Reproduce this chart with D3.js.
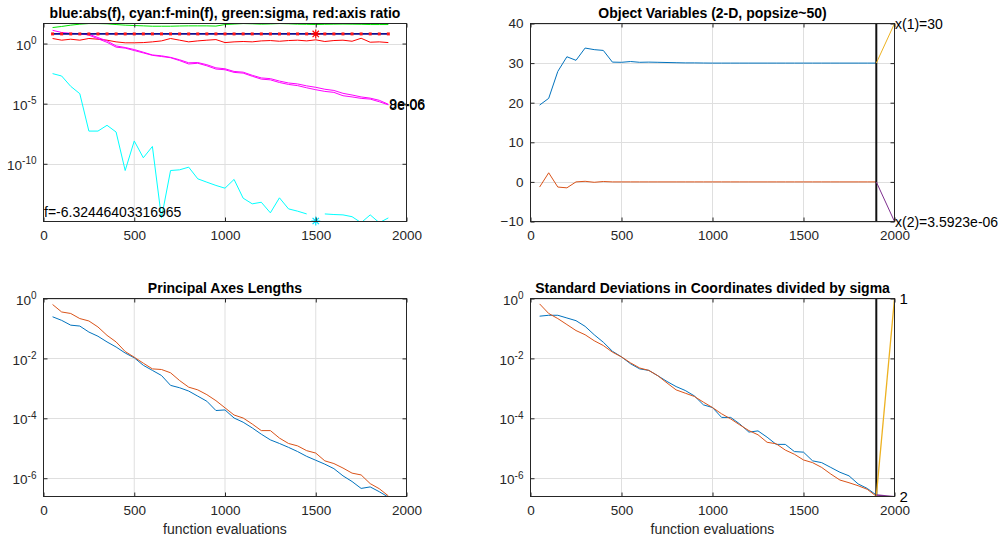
<!DOCTYPE html>
<html>
<head>
<meta charset="utf-8">
<script src="https://cdn.jsdelivr.net/npm/d3@7"></script>
<style>
  body { margin: 0; background: #fff; }
  svg { display: block; font-family: "Liberation Sans", Arial, sans-serif; }
</style>
</head>
<body>
<script>
// function evaluations (x for every series)
const fevals = [50, 100, 150, 200, 250, 300, 350, 400, 450, 500, 550, 600, 650, 700, 750, 800, 850, 900, 950, 1000,
  1050, 1100, 1150, 1200, 1250, 1300, 1350, 1400, 1450, 1500, 1550, 1600, 1650, 1700, 1750, 1800, 1850, 1900];

// log-axis series are kept as log10 of the value
const fBest = -6.32446403316965;
const sigmaLog = [1.33, 1.42, 1.53, 1.61, 1.66, 1.66, 1.64, 1.58, 1.53, 1.50, 1.47, 1.44, 1.44, 1.44, 1.46, 1.47, 1.47, 1.47, 1.45, 1.58,
  1.62, 1.66, 1.64, 1.61, 1.63, 1.66, 1.64, 1.61, 1.60, 1.58, 1.60, 1.61, 1.62, 1.61, 1.60, 1.58, 1.58, 1.58];
const axisRatioLog = [0.42, 0.28, 0.36, 0.28, 0.42, 0.36, 0.28, 0.14, 0.06, 0.06, 0.08, 0.14, 0.22, 0.42, 0.28, 0.14, 0.22, 0.28, 0.33, 0.08,
  0.14, 0.17, 0.14, 0.22, 0.25, 0.19, 0.25, 0.28, 0.22, 0.31, 0.17, 0.25, 0.28, 0.19, 0.44, 0.11, 0.14, 0.08];
const fMinusMinLog = [-2.5, -2.7, -3.56, -4.17, -7.28, -7.28, -6.8, -7.36, -10.56, -8.1, -9.5, -8.56, -14.5, -10.56, -10.5, -10.28, -11.25, -11.53, -11.8, -12.03,
  -11.3, -12.86, -13.33, -13.2, -14.08, -12.83, -13.75, -13.94, -14.17, null, -14.17, -14.22, -14.25, -14.4, -14.9, -14.25, -14.9, -14.5];
const magentaALog = [1.1, 0.92, 0.85, 0.83, 0.78, 0.5, 0.22, -0.2, -0.33, -0.5, -0.72, -0.95, -1.02, -1.15, -1.35, -1.6, -1.58, -1.76, -2.02, -2.1,
  -2.32, -2.38, -2.64, -2.86, -2.92, -3.12, -3.28, -3.36, -3.52, -3.64, -3.8, -3.9, -4.14, -4.28, -4.44, -4.54, -4.72, -5.05];
const magentaBLog = [0.83, 0.83, 0.83, 0.83, 0.7, 0.4, 0.1, -0.3, -0.38, -0.58, -0.78, -0.98, -1.08, -1.18, -1.42, -1.7, -1.64, -1.85, -2.12, -2.18,
  -2.4, -2.46, -2.72, -2.96, -3.02, -3.24, -3.4, -3.5, -3.68, -3.84, -3.98, -4.06, -4.34, -4.44, -4.56, -4.62, -4.84, -5.1];
const magentaLabels = ['9e-06', '8e-06'];
const bestEval = 1500;

// object variables
const x1 = [19.4, 21.1, 27.9, 31.6, 30.7, 33.8, 33.4, 33.2, 30.25, 30.2, 30.4, 30.2, 30.25, 30.2, 30.15, 30.1, 30.05, 30.05, 30.02, 30.0,
  30, 30, 30, 30, 30, 30, 30, 30, 30, 30, 30, 30, 30, 30, 30, 30, 30, 30];
const x2 = [-1.3, 2.3, -1.3, -1.5, 0.0, 0.15, -0.1, 0.1, 0, 0, 0, 0, 0, 0, 0, 0, 0, 0, 0, 0,
  0, 0, 0, 0, 0, 0, 0, 0, 0, 0, 0, 0, 0, 0, 0, 0, 0, 0];
const objLabels = ['x(1)=30', 'x(2)=3.5923e-06'];
const objLabelY = [40, -10];

// principal axes lengths
const paxOrangeLog = [-0.2, -0.45, -0.5, -0.67, -0.75, -0.95, -1.23, -1.45, -1.77, -1.96, -2.16, -2.35, -2.37, -2.48, -2.74, -2.96, -3.05, -3.21, -3.41, -3.65,
  -3.89, -3.99, -4.19, -4.41, -4.41, -4.66, -4.84, -4.92, -5.08, -5.16, -5.42, -5.51, -5.66, -5.83, -5.89, -6.18, -6.35, -6.59];
const paxBlueLog = [-0.61, -0.73, -0.89, -0.92, -1.12, -1.26, -1.45, -1.62, -1.82, -1.98, -2.23, -2.4, -2.57, -2.9, -2.98, -3.09, -3.26, -3.43, -3.74, -3.72,
  -3.99, -4.13, -4.32, -4.53, -4.72, -4.84, -4.97, -5.11, -5.27, -5.4, -5.53, -5.68, -5.92, -6.11, -6.34, -6.29, -6.45, -6.63];

// standard deviations in coordinates / sigma
const sdBlueLog = [-0.59, -0.56, -0.56, -0.65, -0.74, -0.93, -1.21, -1.46, -1.76, -1.95, -2.18, -2.35, -2.4, -2.58, -2.77, -2.94, -3.07, -3.25, -3.55, -3.64,
  -3.97, -3.97, -4.19, -4.46, -4.42, -4.63, -4.87, -4.87, -5.11, -5.13, -5.42, -5.48, -5.64, -5.8, -5.92, -6.19, -6.34, -6.56];
const sdOrangeLog = [-0.18, -0.5, -0.67, -0.87, -1.07, -1.21, -1.41, -1.57, -1.79, -1.95, -2.15, -2.32, -2.4, -2.58, -2.82, -3.05, -3.16, -3.27, -3.46, -3.64,
  -3.85, -4.02, -4.22, -4.41, -4.55, -4.8, -4.85, -5.06, -5.2, -5.39, -5.48, -5.64, -5.86, -6.06, -6.15, -6.25, -6.37, -6.6];
const sdLabels = ['1', '2'];
const sdLabelY = [1, 2.45e-7];

const xTicks = [0, 500, 1000, 1500, 2000];
const titles = [
  'blue:abs(f), cyan:f-min(f), green:sigma, red:axis ratio',
  'Object Variables (2-D, popsize~50)',
  'Principal Axes Lengths',
  'Standard Deviations in Coordinates divided by sigma'
];
const xLabel = 'function evaluations';

const C = { blue: '#0072BD', orange: '#D95319', yellow: '#EDB120', purple: '#7E2F8E', axis: '#262626', grid: '#dfdfdf' };
const tickFont = 13.5;

const svg = d3.select('body').append('svg').attr('width', 1004).attr('height', 541);
const defs = svg.append('defs');
let clipN = 0;

function makePanel(box, y, yTicks) {
  const x = d3.scaleLinear().domain([0, 2000]).range([box.l, box.r]);
  y.range([box.b, box.t]);
  const g = svg.append('g');
  const id = 'clip' + (clipN++);
  defs.append('clipPath').attr('id', id).append('rect')
    .attr('x', box.l).attr('y', box.t).attr('width', box.r - box.l).attr('height', box.b - box.t);
  // grid
  g.append('g').selectAll('line').data(xTicks.filter(d => d > 0 && d < 2000)).join('line')
    .attr('x1', d => x(d)).attr('x2', d => x(d)).attr('y1', box.t).attr('y2', box.b)
    .attr('stroke', C.grid);
  g.append('g').selectAll('line').data(yTicks).join('line')
    .attr('x1', box.l).attr('x2', box.r).attr('y1', d => Math.round(y(d)) + 0.5).attr('y2', d => Math.round(y(d)) + 0.5)
    .attr('stroke', C.grid);
  const plot = g.append('g').attr('clip-path', `url(#${id})`);
  return { x, y, g, plot, box, yTicks };
}

function drawAxes(p, isLog, title, withXLabel) {
  const { x, y, g, box, yTicks } = p;
  const ax = g.append('g').attr('color', C.axis);
  ax.append('g').attr('transform', `translate(0,${box.b})`)
    .call(d3.axisBottom(x).tickValues(xTicks).tickSize(-4).tickSizeOuter(0).tickPadding(9).tickFormat(d3.format('d')));
  ax.append('g').attr('transform', `translate(0,${box.t})`)
    .call(d3.axisTop(x).tickValues(xTicks).tickSize(-4).tickSizeOuter(0).tickFormat(''));
  const left = ax.append('g').attr('transform', `translate(${box.l},0)`)
    .call(d3.axisLeft(y).tickValues(yTicks).tickSize(-4).tickSizeOuter(0).tickPadding(7)
      .tickFormat(isLog ? () => '' : d3.format('d')));
  ax.append('g').attr('transform', `translate(${box.r},0)`)
    .call(d3.axisRight(y).tickValues(yTicks).tickSize(-4).tickSizeOuter(0).tickFormat(''));
  ax.selectAll('.domain').remove();
  ax.selectAll('text').attr('font-size', tickFont).attr('font-family', '"Liberation Sans", Arial, sans-serif');
  if (isLog) {
    left.selectAll('.tick text').attr('dy', '0.42em').each(function (d) {
      const t = d3.select(this);
      t.append('tspan').text('10');
      t.append('tspan').attr('dy', -5.5).attr('font-size', 10).text(Math.round(Math.log10(d)));
    });
  }
  ax.append('rect').attr('x', box.l).attr('y', box.t)
    .attr('width', box.r - box.l).attr('height', box.b - box.t)
    .attr('fill', 'none').attr('stroke', C.axis);
  g.append('text').attr('x', (box.l + box.r) / 2).attr('y', box.t - 6)
    .attr('text-anchor', 'middle').attr('font-weight', 'bold').attr('font-size', 14)
    .attr('fill', '#000').text(title);
  if (withXLabel) {
    g.append('text').attr('x', (box.l + box.r) / 2).attr('y', 533.5)
      .attr('text-anchor', 'middle').attr('font-size', 14).attr('fill', C.axis).text(xLabel);
  }
}

function logLine(p, vals) {
  return d3.line().defined((d, i) => vals[i] != null)
    .x((d, i) => p.x(fevals[i])).y((d, i) => p.y(Math.pow(10, vals[i])))(vals);
}
function linLine(p, vals) {
  return d3.line().x((d, i) => p.x(fevals[i])).y((d, i) => p.y(vals[i]))(vals);
}
function star(p, cx, cy, color) {
  const r = 4.5, k = r * Math.SQRT1_2;
  const path = d3.path();
  path.moveTo(cx - r, cy); path.lineTo(cx + r, cy);
  path.moveTo(cx, cy - r); path.lineTo(cx, cy + r);
  path.moveTo(cx - k, cy - k); path.lineTo(cx + k, cy + k);
  path.moveTo(cx - k, cy + k); path.lineTo(cx + k, cy - k);
  p.g.append('path').attr('d', path.toString()).attr('stroke', color).attr('stroke-width', 1.2).attr('fill', 'none');
}

// ---------- top left ----------
const tl = makePanel({ l: 43.5, r: 406.5, t: 23.5, b: 221.5 },
  d3.scaleLog().domain([Math.pow(10, -14.8), Math.pow(10, 1.667)]), [1e-10, 1e-5, 1]);
tl.plot.append('path').attr('d', logLine(tl, sigmaLog)).attr('fill', 'none').attr('stroke', '#00e600');
tl.plot.append('path').attr('d', logLine(tl, axisRatioLog)).attr('fill', 'none').attr('stroke', '#ff0000');
tl.plot.append('path').attr('d', logLine(tl, magentaBLog)).attr('fill', 'none').attr('stroke', '#ff00ff');
tl.plot.append('path').attr('d', logLine(tl, magentaALog)).attr('fill', 'none').attr('stroke', '#ff00ff');
tl.plot.append('path')
  .attr('d', d3.line().x(d => tl.x(d)).y(() => tl.y(Math.abs(fBest)))(fevals))
  .attr('fill', 'none').attr('stroke', '#101090').attr('stroke-width', 1.8);
tl.plot.selectAll('.mk').data(fevals).join('rect').attr('class', 'mk')
  .attr('x', d => tl.x(d) - 1.5).attr('y', tl.y(Math.abs(fBest)) - 1.5)
  .attr('width', 3).attr('height', 3).attr('fill', '#ff1a1a');
tl.plot.append('path').attr('d', logLine(tl, fMinusMinLog)).attr('fill', 'none').attr('stroke', '#00ffff');
star(tl, tl.x(bestEval), tl.y(Math.abs(fBest)), '#ff0000');
star(tl, tl.x(bestEval), tl.box.b - 0.5, '#00e5ff');
tl.g.selectAll('.ml').data(magentaLabels).join('text').attr('class', 'ml')
  .attr('x', tl.x(fevals[fevals.length - 1]) + 1)
  .attr('y', (d, i) => tl.y(Math.pow(10, [magentaALog, magentaBLog][i][fevals.length - 1])))
  .attr('dy', '0.36em').attr('font-size', 14).attr('fill', '#000').text(d => d);
tl.g.append('text').attr('x', tl.box.l + 0.5).attr('y', tl.box.b - 4.5)
  .attr('font-size', 14).attr('fill', '#000').text('f=' + fBest);
drawAxes(tl, true, titles[0], false);

// ---------- top right ----------
const tr = makePanel({ l: 530.5, r: 894.5, t: 23.5, b: 221.5 },
  d3.scaleLinear().domain([-10, 40]), [-10, 0, 10, 20, 30, 40]);
tr.plot.append('path').attr('d', linLine(tr, x1)).attr('fill', 'none').attr('stroke', C.blue);
tr.plot.append('path').attr('d', linLine(tr, x2)).attr('fill', 'none').attr('stroke', C.orange);
const lastX = fevals[fevals.length - 1];
tr.plot.append('line').attr('x1', tr.x(lastX)).attr('x2', tr.x(lastX)).attr('y1', tr.box.t).attr('y2', tr.box.b)
  .attr('stroke', '#111').attr('stroke-width', 2);
[x1, x2].forEach((s, i) => {
  tr.plot.append('line').attr('x1', tr.x(lastX)).attr('y1', tr.y(s[s.length - 1]))
    .attr('x2', tr.x(2000)).attr('y2', tr.y(objLabelY[i]))
    .attr('stroke', i === 0 ? C.yellow : C.purple);
});
drawAxes(tr, false, titles[1], false);
tr.g.selectAll('.ol').data(objLabels).join('text').attr('class', 'ol')
  .attr('x', tr.x(2000) + 0.5).attr('y', (d, i) => tr.y(objLabelY[i]))
  .attr('dy', '0.36em').attr('font-size', 14).attr('fill', '#000').text(d => d);

// ---------- bottom left ----------
const bl = makePanel({ l: 43.5, r: 406.5, t: 298.5, b: 496.5 },
  d3.scaleLog().domain([Math.pow(10, -6.61), 1]), [1e-6, 1e-4, 1e-2, 1]);
bl.plot.append('path').attr('d', logLine(bl, paxBlueLog)).attr('fill', 'none').attr('stroke', C.blue);
bl.plot.append('path').attr('d', logLine(bl, paxOrangeLog)).attr('fill', 'none').attr('stroke', C.orange);
drawAxes(bl, true, titles[2], true);

// ---------- bottom right ----------
const br = makePanel({ l: 530.5, r: 894.5, t: 298.5, b: 496.5 },
  d3.scaleLog().domain([Math.pow(10, -6.61), 1]), [1e-6, 1e-4, 1e-2, 1]);
br.plot.append('path').attr('d', logLine(br, sdBlueLog)).attr('fill', 'none').attr('stroke', C.blue);
br.plot.append('path').attr('d', logLine(br, sdOrangeLog)).attr('fill', 'none').attr('stroke', C.orange);
br.plot.append('line').attr('x1', br.x(lastX)).attr('x2', br.x(lastX)).attr('y1', br.box.t).attr('y2', br.box.b)
  .attr('stroke', '#111').attr('stroke-width', 2);
[sdOrangeLog, sdBlueLog].forEach((s, i) => {
  br.plot.append('line').attr('x1', br.x(lastX)).attr('y1', br.y(Math.pow(10, s[s.length - 1])))
    .attr('x2', br.x(2000)).attr('y2', br.y(sdLabelY[i]))
    .attr('stroke', i === 0 ? C.yellow : C.purple).attr('stroke-width', 1.3);
});
drawAxes(br, true, titles[3], true);
br.g.selectAll('.sl').data(sdLabels).join('text').attr('class', 'sl')
  .attr('x', br.x(2000) + 5).attr('y', (d, i) => br.y(sdLabelY[i]))
  .attr('dy', '0.36em').attr('font-size', 15).attr('fill', '#000').text(d => d);
</script>
</body>
</html>
